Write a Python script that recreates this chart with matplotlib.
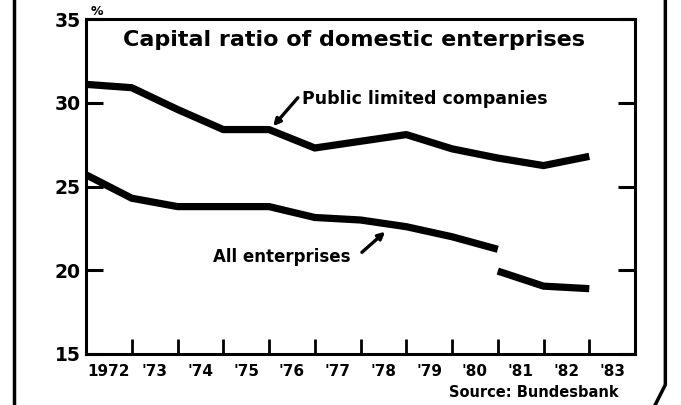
import matplotlib
matplotlib.use("Agg")
import matplotlib.pyplot as plt
from matplotlib.lines import Line2D

# x positions are year boundaries: 0 = start of 1972 ... 11 = start of 1983
public_x = [0, 1, 2, 3, 4, 5, 6, 7, 8, 9, 10, 11]
public_y = [31.1, 30.9, 29.6, 28.4, 28.4, 27.3, 27.7, 28.1, 27.25, 26.7, 26.25, 26.8]

all_x_a = [0, 1, 2, 3, 4, 5, 6, 7, 8, 9]
all_y_a = [25.7, 24.3, 23.8, 23.8, 23.8, 23.15, 23.0, 22.6, 22.0, 21.25]
all_x_b = [9, 10, 11]
all_y_b = [19.95, 19.05, 18.9]

year_labels = ["1972", "'73", "'74", "'75", "'76", "'77", "'78", "'79", "'80", "'81", "'82", "'83"]
y_ticks = [15, 20, 25, 30, 35]

fig = plt.figure(figsize=(6.81, 4.05), dpi=100)
ax = fig.add_axes([0.1263, 0.126, 0.8062, 0.827])

lw = 5.2
ax.plot(public_x, public_y, color="black", lw=lw, solid_capstyle="butt", solid_joinstyle="round")
ax.plot(all_x_a, all_y_a, color="black", lw=lw, solid_capstyle="butt", solid_joinstyle="round")
ax.plot(all_x_b, all_y_b, color="black", lw=lw, solid_capstyle="butt", solid_joinstyle="round")

ax.set_xlim(0, 12)
ax.set_ylim(15, 35)
ax.set_yticks(y_ticks)
ax.set_yticklabels([str(v) for v in y_ticks], fontsize=13.5, fontweight="bold")
ax.set_xticks(range(1, 12))
ax.set_xticklabels([])
ax.set_xticks([i + 0.5 for i in range(12)], minor=True)
ax.set_xticklabels(year_labels, minor=True, fontsize=11, fontweight="bold")
ax.tick_params(axis="x", which="minor", length=0, pad=7)
ax.tick_params(axis="x", which="major", direction="in", length=11, width=2)
ax.tick_params(axis="y", direction="in", length=12, width=2.2, right=True, pad=4)
for s in ax.spines.values():
    s.set_linewidth(2.2)

ax.text(5.85, 33.75, "Capital ratio of domestic enterprises", ha="center", va="center",
        fontsize=16, fontweight="black")

ax.text(4.72, 30.2, "Public limited companies", fontsize=12.5, fontweight="bold",
        va="center", ha="left")
ax.annotate("", xy=(4.09, 28.6), xytext=(4.63, 30.3),
            arrowprops=dict(arrowstyle="-|>", lw=2.4, color="black", shrinkA=0, shrinkB=0,
                            mutation_scale=10))
ax.text(2.78, 20.8, "All enterprises", fontsize=12, fontweight="bold", va="center", ha="left")
ax.annotate("", xy=(6.54, 22.3), xytext=(6.03, 21.07),
            arrowprops=dict(arrowstyle="-|>", lw=2.4, color="black", shrinkA=0, shrinkB=0,
                            mutation_scale=10))

fig.text(0.142, 0.972, "%", fontsize=9, fontweight="bold", ha="center", va="center")
fig.text(0.908, 0.03, "Source: Bundesbank", fontsize=10.5, fontweight="bold",
         ha="right", va="center")

# page borders of the clipping
fig.add_artist(Line2D([0.021, 0.021], [0, 1], color="black", lw=2.5))
fig.add_artist(Line2D([0.977, 0.977, 0.962], [1, 0.05, 0.0], color="black", lw=2.5))

fig.savefig("out.png", dpi=100)
